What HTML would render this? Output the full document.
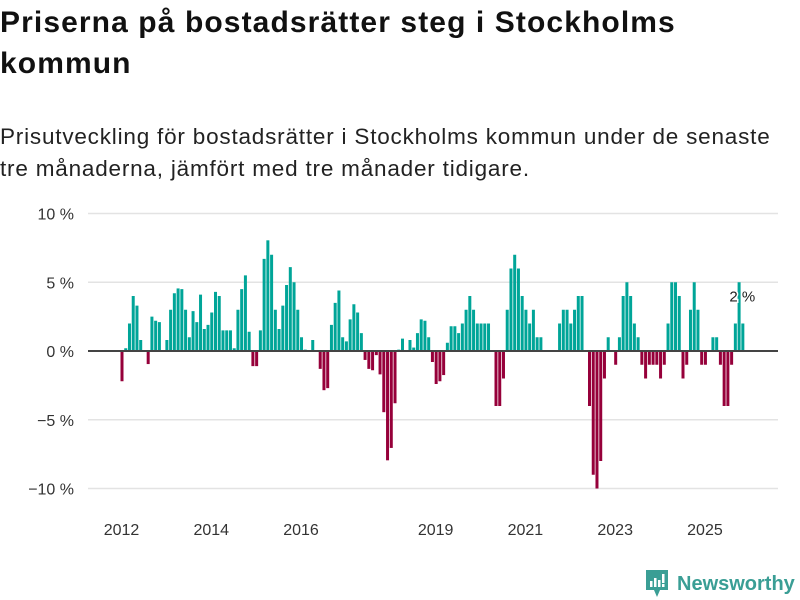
<!DOCTYPE html>
<html><head><meta charset="utf-8"><style>
body{margin:0;background:#fff;width:800px;height:600px;overflow:hidden;font-family:"Liberation Sans","DejaVu Sans",sans-serif;}
h1{position:absolute;left:0;top:2px;margin:0;font-size:30px;line-height:41px;font-weight:bold;color:#111;width:800px;letter-spacing:1.1px;white-space:nowrap}
.sub{position:absolute;left:0;top:121px;margin:0;font-size:22.5px;line-height:32px;color:#222;width:800px;letter-spacing:0.8px;white-space:nowrap}
svg{position:absolute;left:0;top:0}
</style></head><body>
<h1>Priserna på bostadsrätter steg i Stockholms<br>kommun</h1>
<p class="sub">Prisutveckling för bostadsrätter i Stockholms kommun under de senaste<br>tre månaderna, jämfört med tre månader tidigare.</p>
<svg id="chart" width="800" height="600"></svg>
<script>
const values=[-2.2,0.2,2.0,4.0,3.3,0.8,0,-0.95,2.5,2.2,2.1,0,0.8,3.0,4.2,4.55,4.5,3.0,1.0,2.9,2.1,4.1,1.6,1.9,2.8,4.3,4.0,1.5,1.5,1.5,0.2,3.0,4.5,5.5,1.4,-1.1,-1.1,1.5,6.7,8.05,7.0,3.0,1.6,3.3,4.8,6.1,5.0,3.0,1.0,0.1,0,0.8,0,-1.3,-2.85,-2.7,1.9,3.5,4.4,1.0,0.7,2.3,3.4,2.8,1.3,-0.65,-1.3,-1.4,-0.3,-1.7,-4.45,-7.95,-7.05,-3.8,0.1,0.9,0,0.8,0.25,1.3,2.3,2.2,1.0,-0.8,-2.4,-2.2,-1.75,0.6,1.8,1.8,1.3,2.0,3.0,4.0,3.0,2.0,2.0,2.0,2.0,0,-4.0,-4.0,-2.0,3.0,6.0,7.0,6.0,4.0,3.0,2.0,3.0,1.0,1.0,0,0,0,0,2.0,3.0,3.0,2.0,3.0,4.0,4.0,0,-4.0,-9.0,-10.0,-8.0,-2.0,1.0,0,-1.0,1.0,4.0,5.0,4.0,2.0,1.0,-1.0,-2.0,-1.0,-1.0,-1.0,-2.0,-1.0,2.0,5.0,5.0,4.0,-2.0,-1.0,3.0,5.0,3.0,-1.0,-1.0,0,1.0,1.0,-1.0,-4.0,-4.0,-1.0,2.0,5.0,2.0];
const yTicks=[10,5,0,-5,-10];
const yTickLabels=["10 %","5 %","0 %","−5 %","−10 %"];
const xTickYears=[2012,2014,2016,2019,2021,2023,2025];
const startYear=2012;
const lastLabel="2 %";

const NS="http://www.w3.org/2000/svg";
const svg=document.getElementById('chart');
const x=i=>120.5+i*3.74;
const y=v=>351-v*13.75;
function mk(t,a){const e=document.createElementNS(NS,t);for(const k in a)e.setAttribute(k,a[k]);svg.appendChild(e);return e;}
yTicks.forEach((v,k)=>{
  if(v!==0){const g=mk('line',{x1:88,x2:778,y1:y(v),y2:y(v),stroke:'#e3e3e3','stroke-width':1.5});
  
  }
  const t=mk('text',{x:74,y:y(v)+6,'text-anchor':'end','font-size':16,fill:'#333'});
  t.textContent=yTickLabels[k];
  
  
});
values.forEach((v,i)=>{
  if(v===0)return;
  const r=mk('rect',{x:x(i),width:3,y:Math.min(y(v),y(0)),height:Math.abs(y(v)-y(0)),fill:v>0?'#00a598':'#96003a'});
  
  
});
const z=mk('line',{x1:88,x2:778,y1:y(0),y2:y(0),stroke:'#444','stroke-width':2});


xTickYears.forEach(yr=>{
  const i=(yr-startYear)*12;
  const t=mk('text',{x:x(i)+1,y:535,'text-anchor':'middle','font-size':16,fill:'#333'});
  t.textContent=yr;
  
  
});
const li=values.length-1;
const lab=mk('text',{x:x(li)+1,y:y(values[li])-22,'text-anchor':'middle','font-size':15,fill:'#222',stroke:'#fff','stroke-width':3,'paint-order':'stroke'});
lab.textContent=lastLabel;


</script>
<div style="position:absolute;left:645px;top:570px;height:28px;display:flex;align-items:center">
<svg width="24" height="30" viewBox="0 0 24 30" style="position:static"><path d="M1 1h22v20h-8l-3 7-3-7H1z" fill="#3a9e95"/><rect x="5" y="12" width="2.5" height="6" fill="#fff"/><rect x="9" y="9" width="2.5" height="9" fill="#fff"/><rect x="13" y="11" width="2.5" height="7" fill="#fff"/><rect x="17" y="5" width="2.5" height="9" fill="#fff"/><rect x="17" y="15" width="2.5" height="3" fill="#fff"/></svg>
<span style="margin-left:8px;font-size:20px;font-weight:bold;color:#3a9e95">Newsworthy</span></div>
</body></html>
